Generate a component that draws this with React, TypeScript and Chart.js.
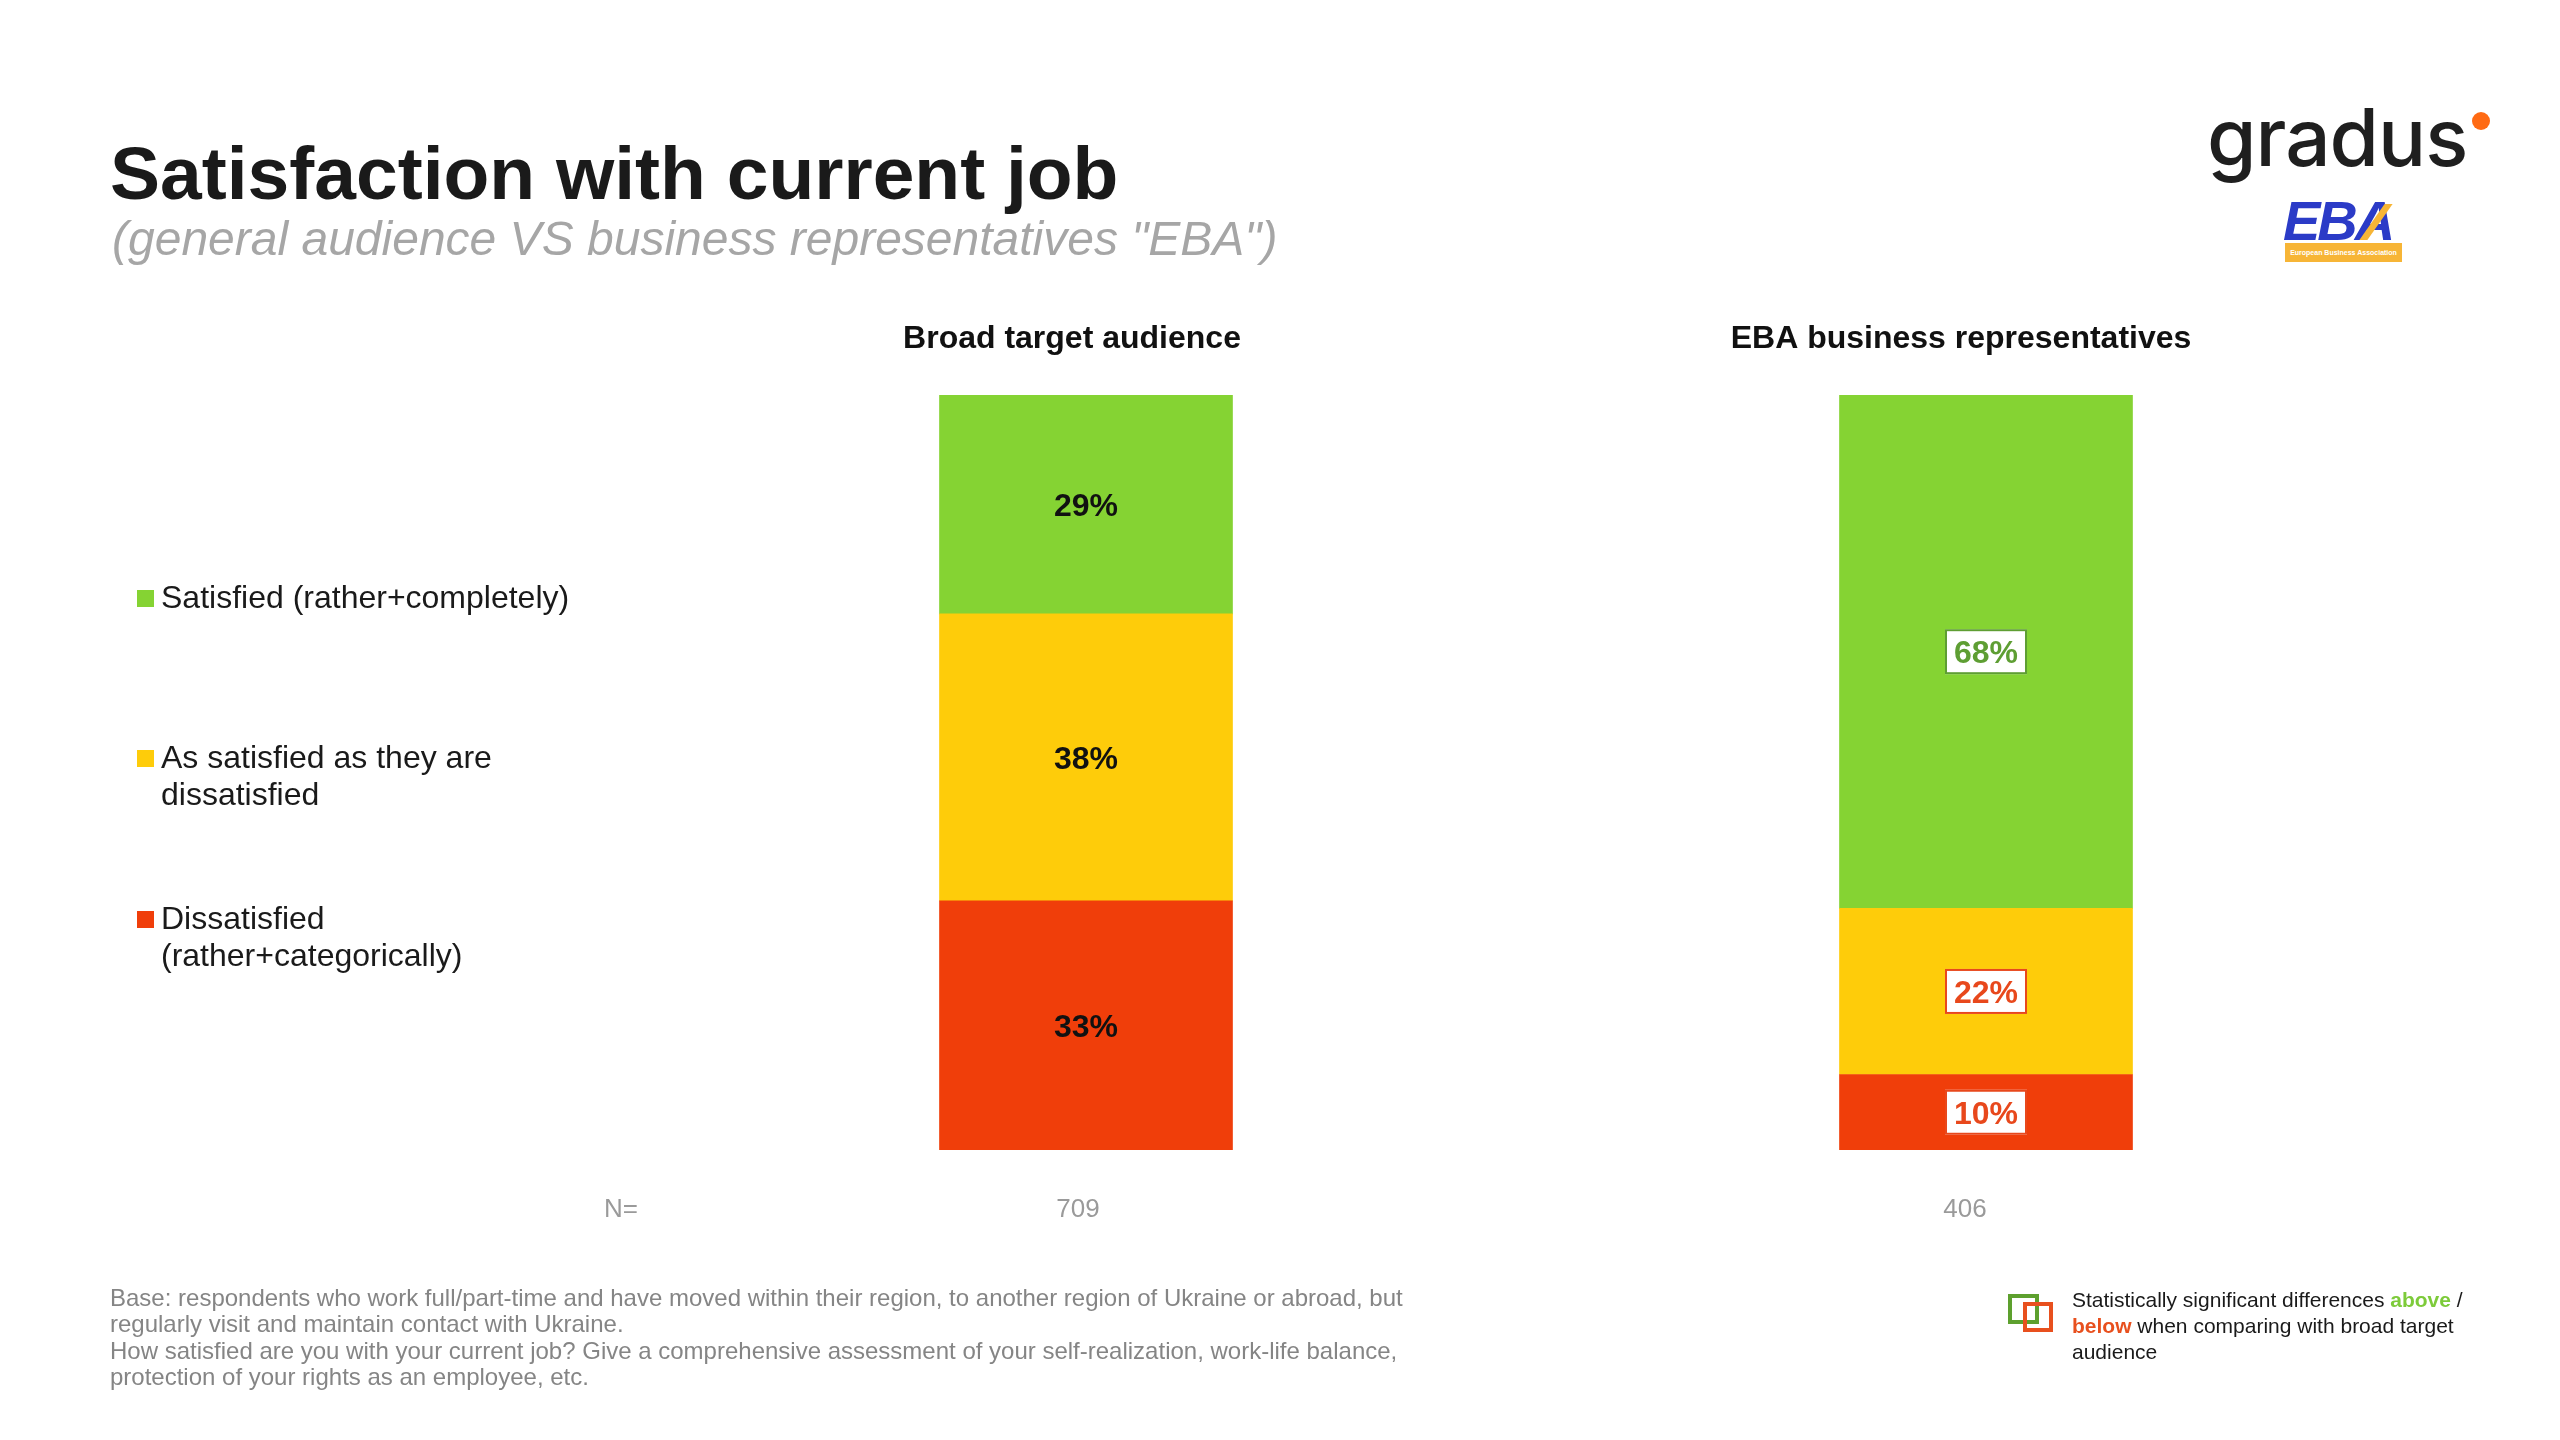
import React, { useEffect, useRef } from "react";
import { Chart, registerables } from "chart.js";

Chart.register(...registerables);

// ---------- data ----------
const categories = ["Broad target audience", "EBA business representatives"];
const sampleSizes = ["709", "406"];
const seriesNames = [
  "Satisfied (rather+completely)",
  "As satisfied as they are dissatisfied",
  "Dissatisfied (rather+categorically)",
];
const satisfied = [29, 68];
const neutral = [38, 22];
const dissatisfied = [33, 10];
// significance vs broad audience: 1 = above, -1 = below, 0 = none
const satisfiedSig = [0, 1];
const neutralSig = [0, -1];
const dissatisfiedSig = [0, -1];

const GREEN = "#85D333";
const YELLOW = "#FECC0A";
const RED = "#F03E0A";
const ABOVE = "#5E9E33";
const BELOW = "#E8481C";
const FONT = "'Liberation Sans', Arial, Helvetica, sans-serif";

// small horizontal shifts of the column texts relative to bar centres
const titleShift = [-14, -25];
const sizeShift = [-8, -21];

const segmentLabels = {
  id: "segmentLabels",
  afterDatasetsDraw(chart: any) {
    const ctx = chart.ctx;
    ctx.save();
    chart.data.datasets.forEach((ds: any, di: number) => {
      const meta = chart.getDatasetMeta(di);
      meta.data.forEach((bar: any, i: number) => {
        const p = bar.getProps(["x", "y", "base"], true);
        const cy = (p.y + p.base) / 2;
        const text = ds.data[i] + "%";
        const sig = ds.sig[i];
        ctx.font = "bold 32px " + FONT;
        ctx.textAlign = "center";
        ctx.textBaseline = "alphabetic";
        if (sig === 0) {
          ctx.fillStyle = "#111111";
          ctx.fillText(text, p.x, cy + 11.5);
        } else {
          const color = sig > 0 ? ABOVE : BELOW;
          const w = 82;
          const h = 45;
          ctx.fillStyle = "#ffffff";
          ctx.fillRect(p.x - w / 2, cy - h / 2, w, h);
          ctx.strokeStyle = color;
          ctx.lineWidth = 2;
          ctx.strokeRect(p.x - w / 2 + 1, cy - h / 2 + 1, w - 2, h - 2);
          ctx.fillStyle = color;
          ctx.fillText(text, p.x, cy + 11.5);
        }
      });
    });
    ctx.restore();
  },
};

const columnTexts = {
  id: "columnTexts",
  afterDraw(chart: any) {
    const ctx = chart.ctx;
    const xs = chart.scales.x;
    const area = chart.chartArea;
    ctx.save();
    ctx.textBaseline = "alphabetic";
    ctx.textAlign = "center";
    categories.forEach((c, i) => {
      const x = xs.getPixelForValue(i);
      ctx.font = "bold 32px " + FONT;
      ctx.fillStyle = "#111111";
      ctx.fillText(c, x + titleShift[i], area.top - 47);
      ctx.font = "26px " + FONT;
      ctx.fillStyle = "#9a9a9a";
      ctx.fillText(sampleSizes[i], x + sizeShift[i], area.bottom + 67);
    });
    ctx.textAlign = "right";
    ctx.font = "26px " + FONT;
    ctx.fillStyle = "#9a9a9a";
    ctx.fillText("N=", area.left + 2, area.bottom + 67);
    ctx.restore();
  },
};

function ChartCanvas() {
  const ref = useRef<HTMLCanvasElement | null>(null);
  useEffect(() => {
    if (!ref.current) return;
    const chart = new Chart(ref.current, {
      type: "bar",
      data: {
        labels: categories,
        datasets: [
          { label: seriesNames[2], data: dissatisfied, backgroundColor: RED, sig: dissatisfiedSig } as any,
          { label: seriesNames[1], data: neutral, backgroundColor: YELLOW, sig: neutralSig } as any,
          { label: seriesNames[0], data: satisfied, backgroundColor: GREEN, sig: satisfiedSig } as any,
        ],
      },
      options: {
        animation: false,
        responsive: true,
        maintainAspectRatio: false,
        layout: { padding: { left: 636, right: 124, top: 395, bottom: 290 } },
        datasets: { bar: { barThickness: 293, borderWidth: 0 } },
        plugins: { legend: { display: false }, title: { display: false }, tooltip: { enabled: false } },
        scales: {
          x: { stacked: true, display: false },
          y: { stacked: true, display: false, min: 0, max: 100 },
        },
        events: [],
      } as any,
      plugins: [segmentLabels, columnTexts],
    });
    return () => chart.destroy();
  }, []);
  return (
    <div style={{ position: "absolute", left: 0, top: 0, width: 2560, height: 1440 }}>
      <canvas ref={ref} />
    </div>
  );
}

const abs = (left: number, top: number, extra: React.CSSProperties = {}): React.CSSProperties => ({
  position: "absolute",
  left,
  top,
  whiteSpace: "nowrap",
  ...extra,
});

const legendColors = [GREEN, YELLOW, RED];
const legendLines = [
  ["Satisfied (rather+completely)"],
  ["As satisfied as they are", "dissatisfied"],
  ["Dissatisfied", "(rather+categorically)"],
];
const legendTops = [579, 739, 900];

export default function App() {
  return (
    <div
      style={{
        position: "absolute",
        left: 0,
        top: 0,
        width: 2560,
        height: 1440,
        background: "#ffffff",
        overflow: "hidden",
        fontFamily: FONT,
        color: "#1a1a1a",
      }}
    >
      <ChartCanvas />

      {/* Title */}
      <div style={abs(110, 135, { fontSize: 75, lineHeight: "76px", fontWeight: 700, color: "#1a1a1a" })}>
        Satisfaction with current job
      </div>
      <div style={abs(112, 215, { fontSize: 48, lineHeight: "48px", fontStyle: "italic", color: "#a6a6a6" })}>
        (general audience VS business representatives "EBA")
      </div>

      {/* Legend */}
      {legendLines.map((lines, i) => (
        <div key={i}>
          <div
            style={abs(137, legendTops[i] + 11, {
              width: 17,
              height: 17,
              background: legendColors[i],
            })}
          />
          <div style={abs(161, legendTops[i], { fontSize: 32, lineHeight: "37px", color: "#1a1a1a" })}>
            {lines.map((l, j) => (
              <div key={j}>{l}</div>
            ))}
          </div>
        </div>
      ))}

      {/* Footnote */}
      <div style={abs(110, 1285, { fontSize: 24, lineHeight: "26.3px", color: "#858585" })}>
        <div>
          Base: respondents who work full/part-time and have moved within their region, to another region of Ukraine or abroad, but
        </div>
        <div>regularly visit and maintain contact with Ukraine.</div>
        <div>
          How satisfied are you with your current job? Give a comprehensive assessment of your self-realization, work-life balance,
        </div>
        <div>protection of your rights as an employee, etc.</div>
      </div>

      {/* Significance note */}
      <div
        style={abs(2008, 1294, {
          width: 31,
          height: 30,
          border: "4px solid #5DA02E",
          boxSizing: "border-box",
        })}
      />
      <div
        style={abs(2023, 1302, {
          width: 30,
          height: 30,
          border: "4px solid #E8501E",
          boxSizing: "border-box",
        })}
      />
      <div style={abs(2072, 1287, { fontSize: 21, lineHeight: "26px", color: "#1a1a1a" })}>
        <div>
          Statistically significant differences <b style={{ color: "#7DCB3A" }}>above</b> /
        </div>
        <div>
          <b style={{ color: "#E8501E" }}>below</b> when comparing with broad target
        </div>
        <div>audience</div>
      </div>

      {/* Logos */}
      <div
        style={abs(2207, 97, {
          fontFamily: "Inter, 'Noto Sans', sans-serif",
          fontSize: 80,
          lineHeight: "80px",
          fontWeight: 500,
          color: "#1f1f1f",
          letterSpacing: -1,
        })}
      >
        gradus
      </div>
      <div
        style={abs(2472, 112, { width: 18, height: 18, borderRadius: 9, background: "#FF6A13" })}
      />
      <div
        style={abs(2283, 193, {
          fontSize: 56,
          lineHeight: "56px",
          fontWeight: 700,
          fontStyle: "italic",
          color: "#2B3BC7",
          letterSpacing: -3,
        })}
      >
        EBA
      </div>
      <div
        style={abs(2372, 204, {
          width: 8,
          height: 36,
          background: "#F7B536",
          transform: "skewX(-35deg)",
        })}
      />
      <div
        style={abs(2285, 243, {
          width: 117,
          height: 19,
          background: "#F7B536",
          color: "#ffffff",
          fontSize: 7,
          lineHeight: "19px",
          textAlign: "center",
          fontWeight: 700,
        })}
      >
        European Business Association
      </div>
    </div>
  );
}
